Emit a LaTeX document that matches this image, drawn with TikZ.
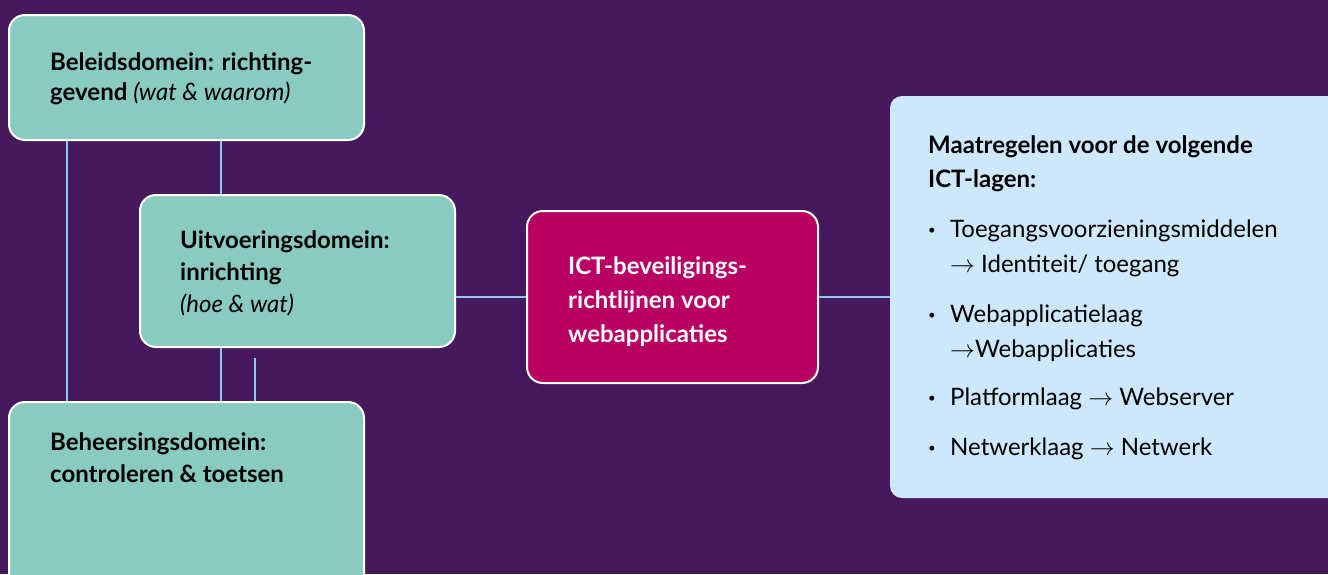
\documentclass[tikz,border=0pt]{standalone}
\usepackage{fontspec}
\setmainfont{Lato}
\usepackage{xcolor}
\definecolor{paars}{HTML}{45195B}
\definecolor{mint}{HTML}{89CBC1}
\definecolor{robijn}{HTML}{B90063}
\definecolor{hemel}{HTML}{CEE8FB}
\definecolor{lijn}{HTML}{8DC8F0}
\newcommand{\stip}{\makebox[22pt][l]{\raisebox{3pt}{\fontsize{13}{13}\selectfont•}}}
\newcommand{\inspring}{\makebox[22pt][l]{}}
\tikzset{
	domein/.style={draw=white, line width=2pt, fill=mint, rounded corners=16pt},
	kern/.style={draw=white, line width=2pt, fill=robijn, rounded corners=16pt},
	lagen/.style={fill=hemel, rounded corners=12pt},
	tekst/.style={inner sep=0pt, anchor=base west, align=left, font=\fontsize{24}{32}\selectfont\bfseries},
	link/.style={draw=lijn, line width=2pt}
}

\begin{document}
\begin{tikzpicture}[x=1pt,y=-1pt]
	\fill[paars] (0,0) rectangle (1328,574);
	\useasboundingbox (0,0) rectangle (1328,574);

	\node[domein, minimum width=355pt, minimum height=125pt] (beleid) at (186.5,77.5) {};
	\node[domein, minimum width=315pt, minimum height=152pt] (uitv) at (297.5,271) {};
	\node[domein, minimum width=355pt, minimum height=198pt] (beheer) at (186.5,501) {};
	\node[kern, minimum width=291pt, minimum height=172pt] (ict) at (672.5,297) {};
	\node[lagen, minimum width=460pt, minimum height=402pt] (maat) at (1120,297) {};

	% teksten, geplaatst op de basislijn van de laatste regel
	\node[tekst, text=black, font=\fontsize{24}{30}\selectfont\bfseries] (beleid-t) at (50,100) {Beleidsdomein: richting-\\
		gevend {\mdseries\itshape (wat \& waarom)}};
	\node[tekst, text=black] (uitv-t) at (180,312) {Uitvoeringsdomein:\\
		inrichting\\
		{\mdseries\itshape (hoe \& wat)}};
	\node[tekst, text=black] (beheer-t) at (50,482) {Beheersingsdomein:\\
		controleren \& toetsen};
	\node[tekst, text=white, font=\fontsize{24}{34}\selectfont\bfseries] (ict-t) at (568,342) {ICT-beveiligings-\\
		richtlijnen voor\\
		webapplicaties};
	\node[tekst, text=black, font=\fontsize{24}{34}\selectfont\bfseries] (maat-t) at (928,187) {Maatregelen voor de volgende\\
		ICT-lagen:};
	\node[tekst, text=black, font=\fontsize{24}{35}\selectfont] (maat-l) at (928,455) {\stip Toegangsvoorzieningsmiddelen\\
		\inspring$\rightarrow$ Identiteit/ toegang\\[15pt]
		\stip Webapplicatielaag\\
		\inspring$\rightarrow$Webapplicaties\\[13pt]
		\stip Platformlaag $\rightarrow$ Webserver\\[15pt]
		\stip Netwerklaag $\rightarrow$ Netwerk};

	% verbindingen
	\coordinate (kolA) at (67,0);
	\coordinate (kolB) at (221,0);
	\coordinate (stomp) at (255,358);
	\draw[link] (beleid.south -| kolA) -- (beheer.north -| kolA);
	\draw[link] (beleid.south -| kolB) -- (uitv.north -| kolB);
	\draw[link] (uitv.south -| kolB) -- (beheer.north -| kolB);
	\draw[link] (stomp) -- (beheer.north -| stomp);
	\draw[link] (uitv.east |- ict.west) -- (ict.west);
	\draw[link] (ict.east) -- (maat.west |- ict.east);
\end{tikzpicture}
\end{document}
